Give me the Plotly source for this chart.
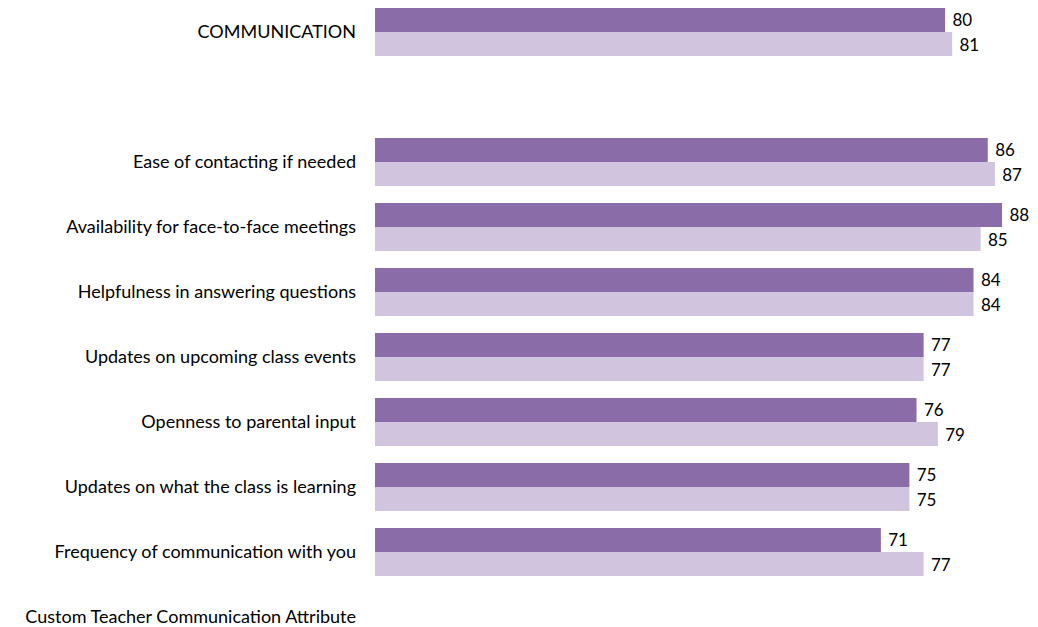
import plotly.graph_objects as go

categories = [
    "COMMUNICATION",
    " ",
    "Ease of contacting if needed",
    "Availability for face-to-face meetings",
    "Helpfulness in answering questions",
    "Updates on upcoming class events",
    "Openness to parental input",
    "Updates on what the class is learning",
    "Frequency of communication with you",
    "Custom Teacher Communication Attribute",
]
series_a = [80, None, 86, 88, 84, 77, 76, 75, 71, None]
series_b = [81, None, 87, 85, 84, 77, 79, 75, 77, None]

dark = "#8A6DA8"
light = "#D1C4DF"
font_family = "Lato, 'Open Sans', sans-serif"

fig = go.Figure()
for name, vals, col in [("Series A", series_a, dark), ("Series B", series_b, light)]:
    fig.add_trace(go.Bar(
        y=categories, x=vals, orientation="h", name=name,
        marker=dict(color=col, line=dict(width=0)),
        text=[("" if v is None else " " + str(v)) for v in vals],
        textposition="outside", cliponaxis=False,
        textfont=dict(size=17, color="#000000", family=font_family),
    ))

# the page body adds an 8px offset; the figure is sized to fit the window
fig.update_layout(
    width=1030, height=619,
    margin=dict(l=367, r=0, t=0, b=0, autoexpand=False),
    paper_bgcolor="white", plot_bgcolor="white",
    barmode="group", bargap=0.26, bargroupgap=0,
    showlegend=False,
    font=dict(family=font_family, size=17, color="#000000"),
)
fig.update_xaxes(range=[0, 93.05], visible=False, showgrid=False, zeroline=False,
                 automargin=False)
fig.update_yaxes(
    type="category", categoryorder="array", categoryarray=categories,
    range=[9.154, -0.369], showgrid=False, zeroline=False, showline=False,
    ticks="", ticklabelstandoff=18, automargin=False,
    tickfont=dict(size=18, family=font_family),
)
fig.write_html("out.html")
